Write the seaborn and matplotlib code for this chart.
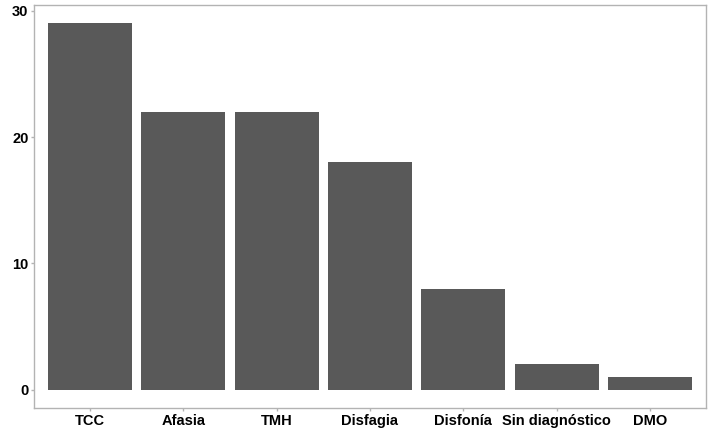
import pandas as pd
import seaborn as sns
import matplotlib.pyplot as plt

categorias = ["TCC", "Afasia", "TMH", "Disfagia", "Disfonía", "Sin diagnóstico", "DMO"]
casos = [29, 22, 22, 18, 8, 2, 1]

df = pd.DataFrame({"diagnostico": categorias, "n": casos})

sns.set_theme(style="white")
plt.rcParams['font.family'] = ['Liberation Sans', 'DejaVu Sans']

fig = plt.figure(figsize=(7.09, 4.28), dpi=100)
ax = fig.add_axes([34/709, 1 - 408/428, 672/709, 403/428])
sns.barplot(data=df, x="diagnostico", y="n", color="#595959", saturation=1,
            width=0.9, ax=ax, edgecolor="none")

ax.set_xlim(-0.6, 6.6)
ax.set_ylim(-1.45, 30.45)
ax.set_yticks([0, 10, 20, 30])
ax.set_xlabel("")
ax.set_ylabel("")
for s in ax.spines.values():
    s.set_visible(True)
    s.set_color("#b3b3b3")
    s.set_linewidth(1.0)
ax.tick_params(axis="both", length=2.5, color="#b3b3b3", width=1, pad=1.5,
               labelsize=10.5, labelcolor="black")
ax.tick_params(axis="both", which="major", left=True, bottom=True)
for lab in ax.get_xticklabels() + ax.get_yticklabels():
    lab.set_fontweight("bold")

fig.savefig("out.png", dpi=100)
